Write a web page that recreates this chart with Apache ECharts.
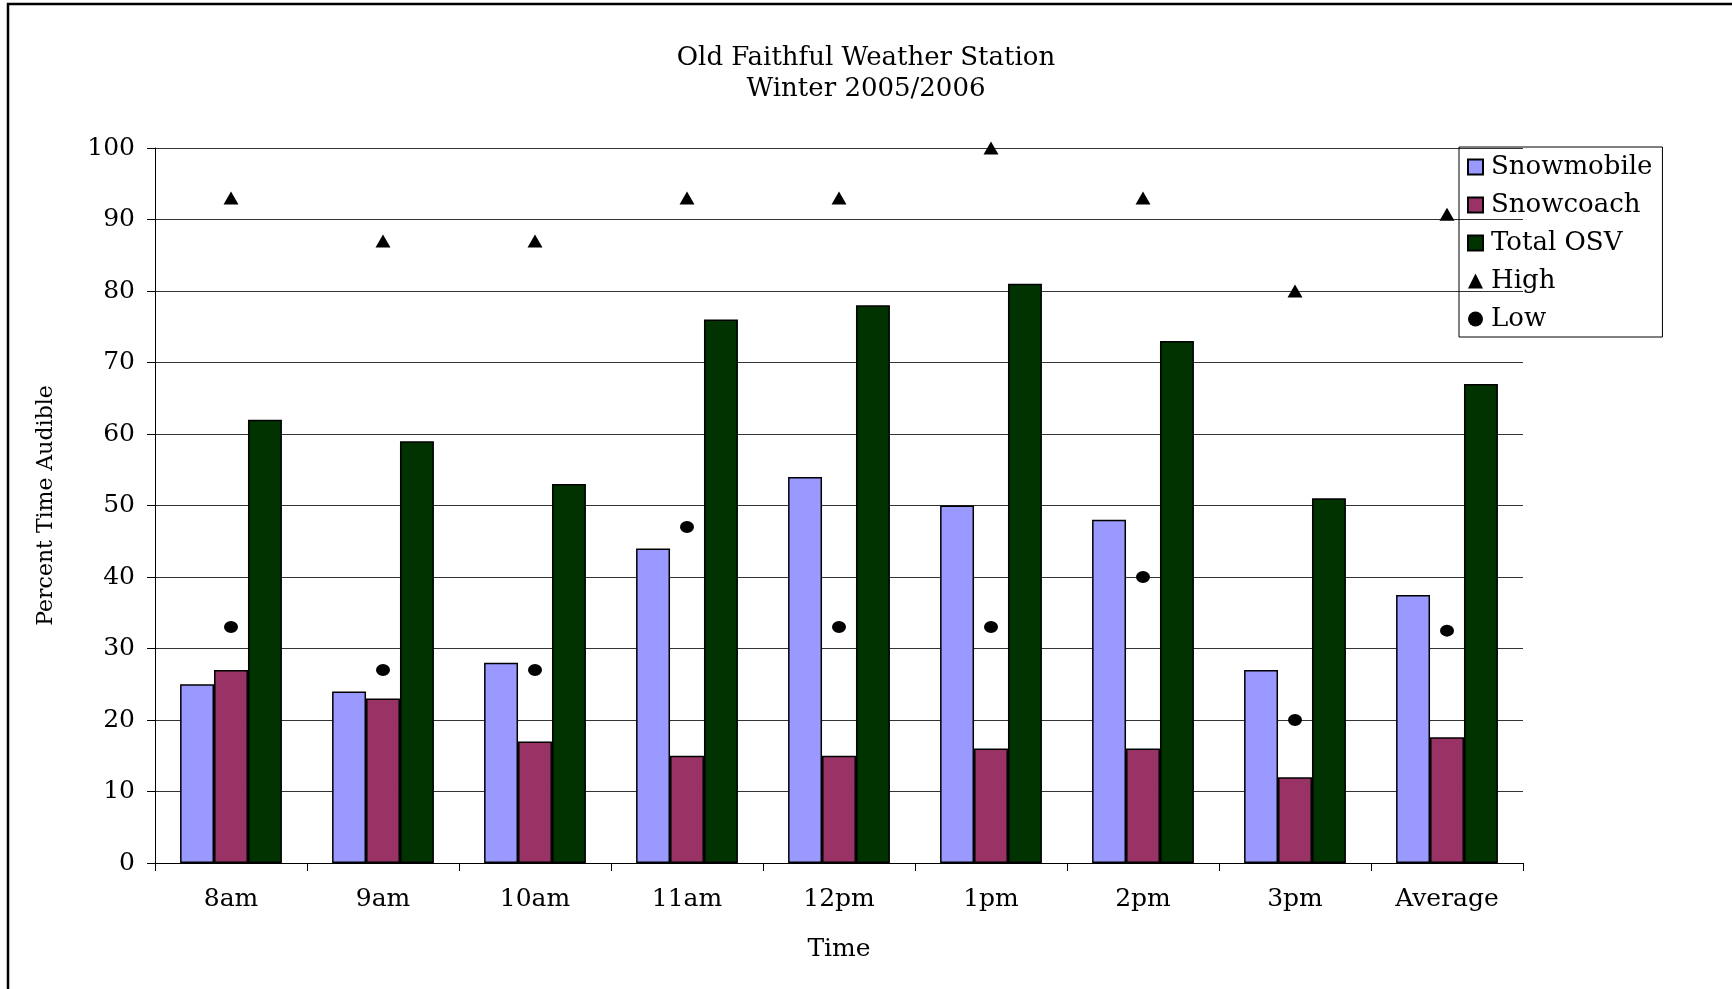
<!DOCTYPE html>
<html>
<head>
<meta charset="utf-8">
<script src="https://cdn.jsdelivr.net/npm/echarts@6/dist/echarts.min.js"></script>
<style>
  html, body { margin: 0; padding: 0; background: #fff; }
  #chart { width: 1732px; height: 989px; }
</style>
</head>
<body>
<div id="chart"></div>
<script>
// Data
const times = ['8am', '9am', '10am', '11am', '12pm', '1pm', '2pm', '3pm', 'Average'];
const snowmobile = [25, 24, 28, 44, 54, 50, 48, 27, 37.5];
const snowcoach = [27, 23, 17, 15, 15, 16, 16, 12, 17.6];
const totalOSV = [62, 59, 53, 76, 78, 81, 73, 51, 67];
const high = [93, 87, 87, 93, 93, 100, 93, 80, 90.75];
const low = [33, 27, 27, 47, 33, 33, 40, 20, 32.5];

const font = 'DejaVu Serif';
const chart = echarts.init(document.getElementById('chart'));

const barStyle = (color) => ({ color: color, borderColor: '#000', borderWidth: 1.5 });

const option = {
  backgroundColor: '#fff',
  animation: false,
  title: {
    text: 'Old Faithful Weather Station\nWinter 2005/2006',
    left: 'center',
    top: 38,
    textStyle: { fontFamily: font, fontSize: 26, fontWeight: 'normal', color: '#000', lineHeight: 31 }
  },
  graphic: [{
    type: 'rect',
    shape: { x: 8, y: 4, width: 1800, height: 1100 },
    style: { fill: 'none', stroke: '#000', lineWidth: 2.5 },
    silent: true
  }],
  legend: {
    orient: 'vertical',
    left: 1459,
    top: 147,
    padding: [7, 10, 5, 8],
    itemGap: 12,
    itemWidth: 15,
    itemHeight: 15,
    borderColor: '#000',
    borderWidth: 1,
    textStyle: { fontFamily: font, fontSize: 26, color: '#000', lineHeight: 26, padding: [0, 0, 0, 3] },
    data: [
      { name: 'Snowmobile', icon: 'rect' },
      { name: 'Snowcoach', icon: 'rect' },
      { name: 'Total OSV', icon: 'rect' },
      { name: 'High', icon: 'triangle', itemStyle: { borderWidth: 0 } },
      { name: 'Low', icon: 'circle', itemStyle: { borderWidth: 0 } }
    ]
  },
  grid: { left: 155, right: 209, top: 148, bottom: 126 },
  xAxis: {
    type: 'category',
    data: times,
    name: 'Time',
    nameLocation: 'middle',
    nameGap: 74,
    nameTextStyle: { fontFamily: font, fontSize: 25, color: '#000' },
    axisLine: { lineStyle: { color: '#000', width: 1 } },
    axisTick: { show: true, length: 8, lineStyle: { color: '#000' } },
    axisLabel: { fontFamily: font, fontSize: 25, color: '#000', margin: 24 }
  },
  yAxis: {
    type: 'value',
    min: 0,
    max: 100,
    interval: 10,
    name: 'Percent Time Audible',
    nameLocation: 'middle',
    nameGap: 98,
    nameTextStyle: { fontFamily: font, fontSize: 22, color: '#000' },
    axisLine: { show: true, lineStyle: { color: '#000', width: 1 } },
    axisTick: { show: true, length: 8, lineStyle: { color: '#000' } },
    axisLabel: { fontFamily: font, fontSize: 25, color: '#000', margin: 20 },
    splitLine: { lineStyle: { color: '#333', width: 1 } }
  },
  series: [
    { name: 'Snowmobile', type: 'bar', data: snowmobile, barGap: '0%', barCategoryGap: '33%', itemStyle: barStyle('#9999FF') },
    { name: 'Snowcoach', type: 'bar', data: snowcoach, itemStyle: barStyle('#993366') },
    { name: 'Total OSV', type: 'bar', data: totalOSV, itemStyle: barStyle('#003300') },
    { name: 'High', type: 'scatter', data: high, symbol: 'triangle', symbolSize: [15, 13], itemStyle: { color: '#000', opacity: 1 }, z: 5 },
    { name: 'Low', type: 'scatter', data: low, symbol: 'circle', symbolSize: [14, 12], itemStyle: { color: '#000', opacity: 1 }, z: 5 }
  ]
};

chart.setOption(option);
</script>
</body>
</html>
